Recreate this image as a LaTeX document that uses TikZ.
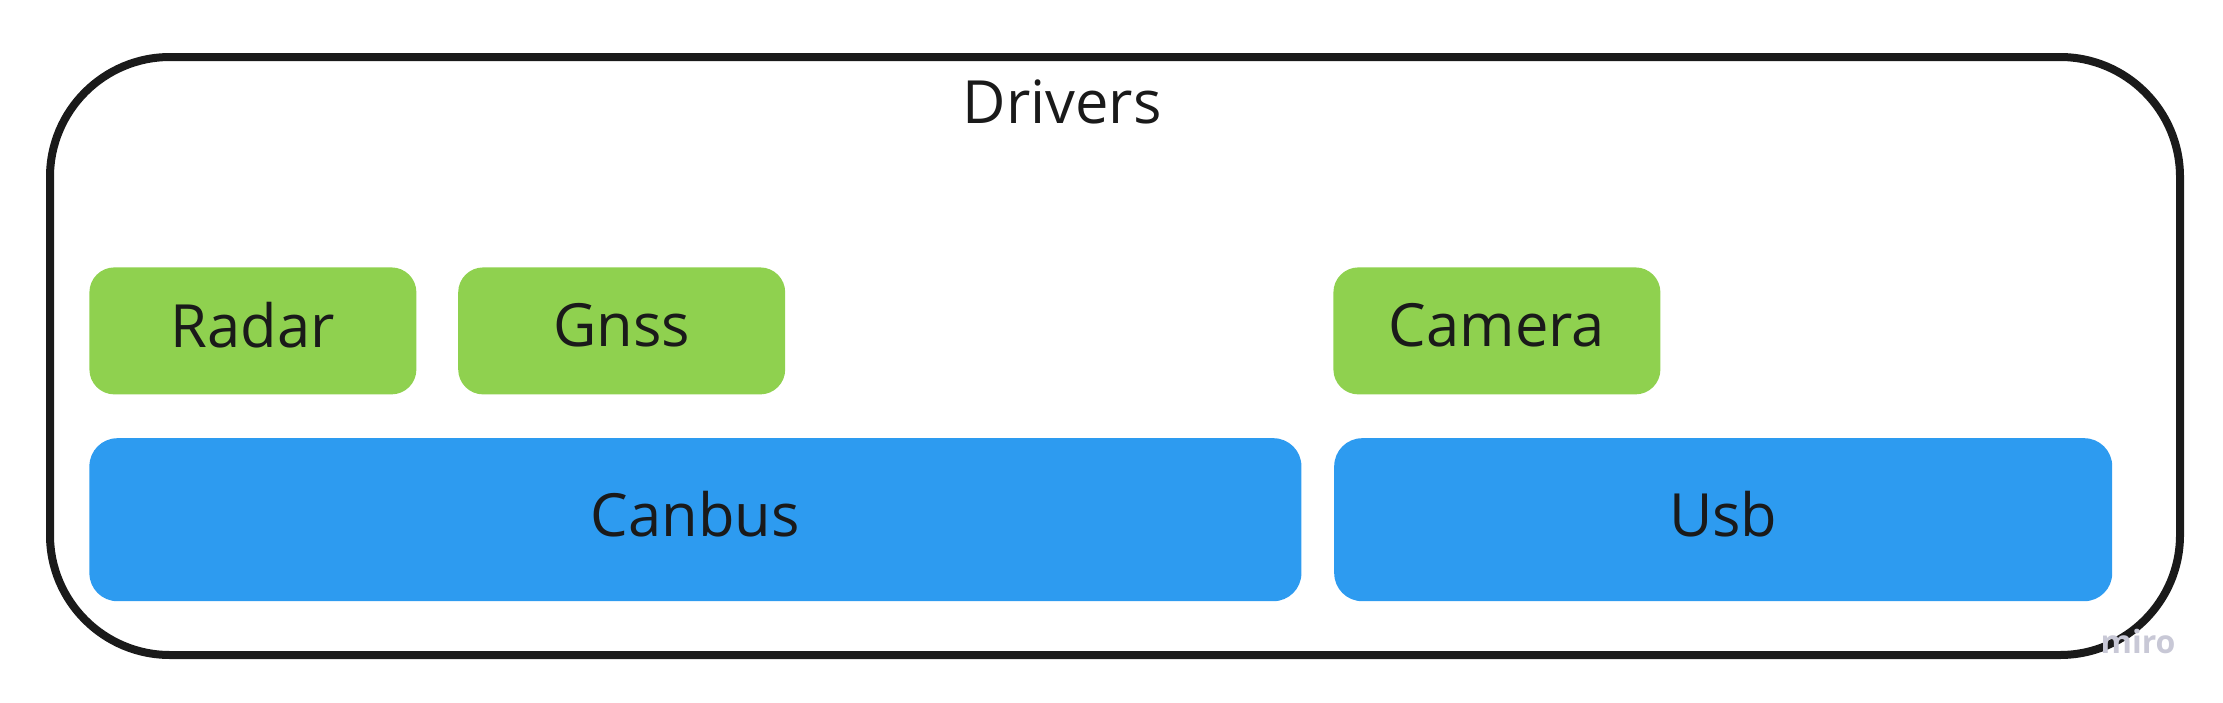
\documentclass[tikz,border=0pt]{standalone}
\usepackage{fontspec}
\setmainfont{Open Sans}
\usetikzlibrary{positioning}
\definecolor{miroGreen}{RGB}{143,209,79}
\definecolor{miroBlue}{RGB}{45,155,240}
\definecolor{frameGrey}{RGB}{26,26,26}
\definecolor{markGrey}{RGB}{200,200,214}
\tikzstyle{module} = [rectangle, fill=miroGreen, text=frameGrey, rounded corners=12.5pt,
    minimum width=163.5pt, minimum height=63.5pt, inner sep=0pt, text depth=6pt,
    font=\fontsize{29.8}{36}\selectfont]
\tikzstyle{bus} = [module, fill=miroBlue, rounded corners=14pt, minimum height=81.5pt]
\tikzstyle{frame} = [rectangle, draw=frameGrey, line width=4pt, rounded corners=60pt,
    minimum width=1065pt, minimum height=299pt, inner sep=0pt]

\begin{document}
\begin{tikzpicture}[x=0.5pt,y=-0.5pt]
      \useasboundingbox (0,0) rectangle (2223,702);
      \node[frame] (drivers) at (1115,356) {};
      \node[text=frameGrey, font=\fontsize{29.8}{36}\selectfont] (title) at (1062,102) {Drivers};
      % top row
      \node[module, anchor=north west] (radar) at (89,267) {Radar};
      \node[module, right=20.5pt of radar] (gnss) {Gnss};
      \node[module, anchor=north west] (camera) at (1333,267) {Camera};
      % bus row
      \node[bus, below=21.5pt of radar.south west, anchor=north west, minimum width=606pt] (canbus) {Canbus};
      \node[bus, right=16pt of canbus, minimum width=389pt] (usb) {Usb};
      \node[text=markGrey, font=\fontsize{16}{18}\selectfont\bfseries] (mark) at (2138,641) {miro};
    \end{tikzpicture}
\end{document}
